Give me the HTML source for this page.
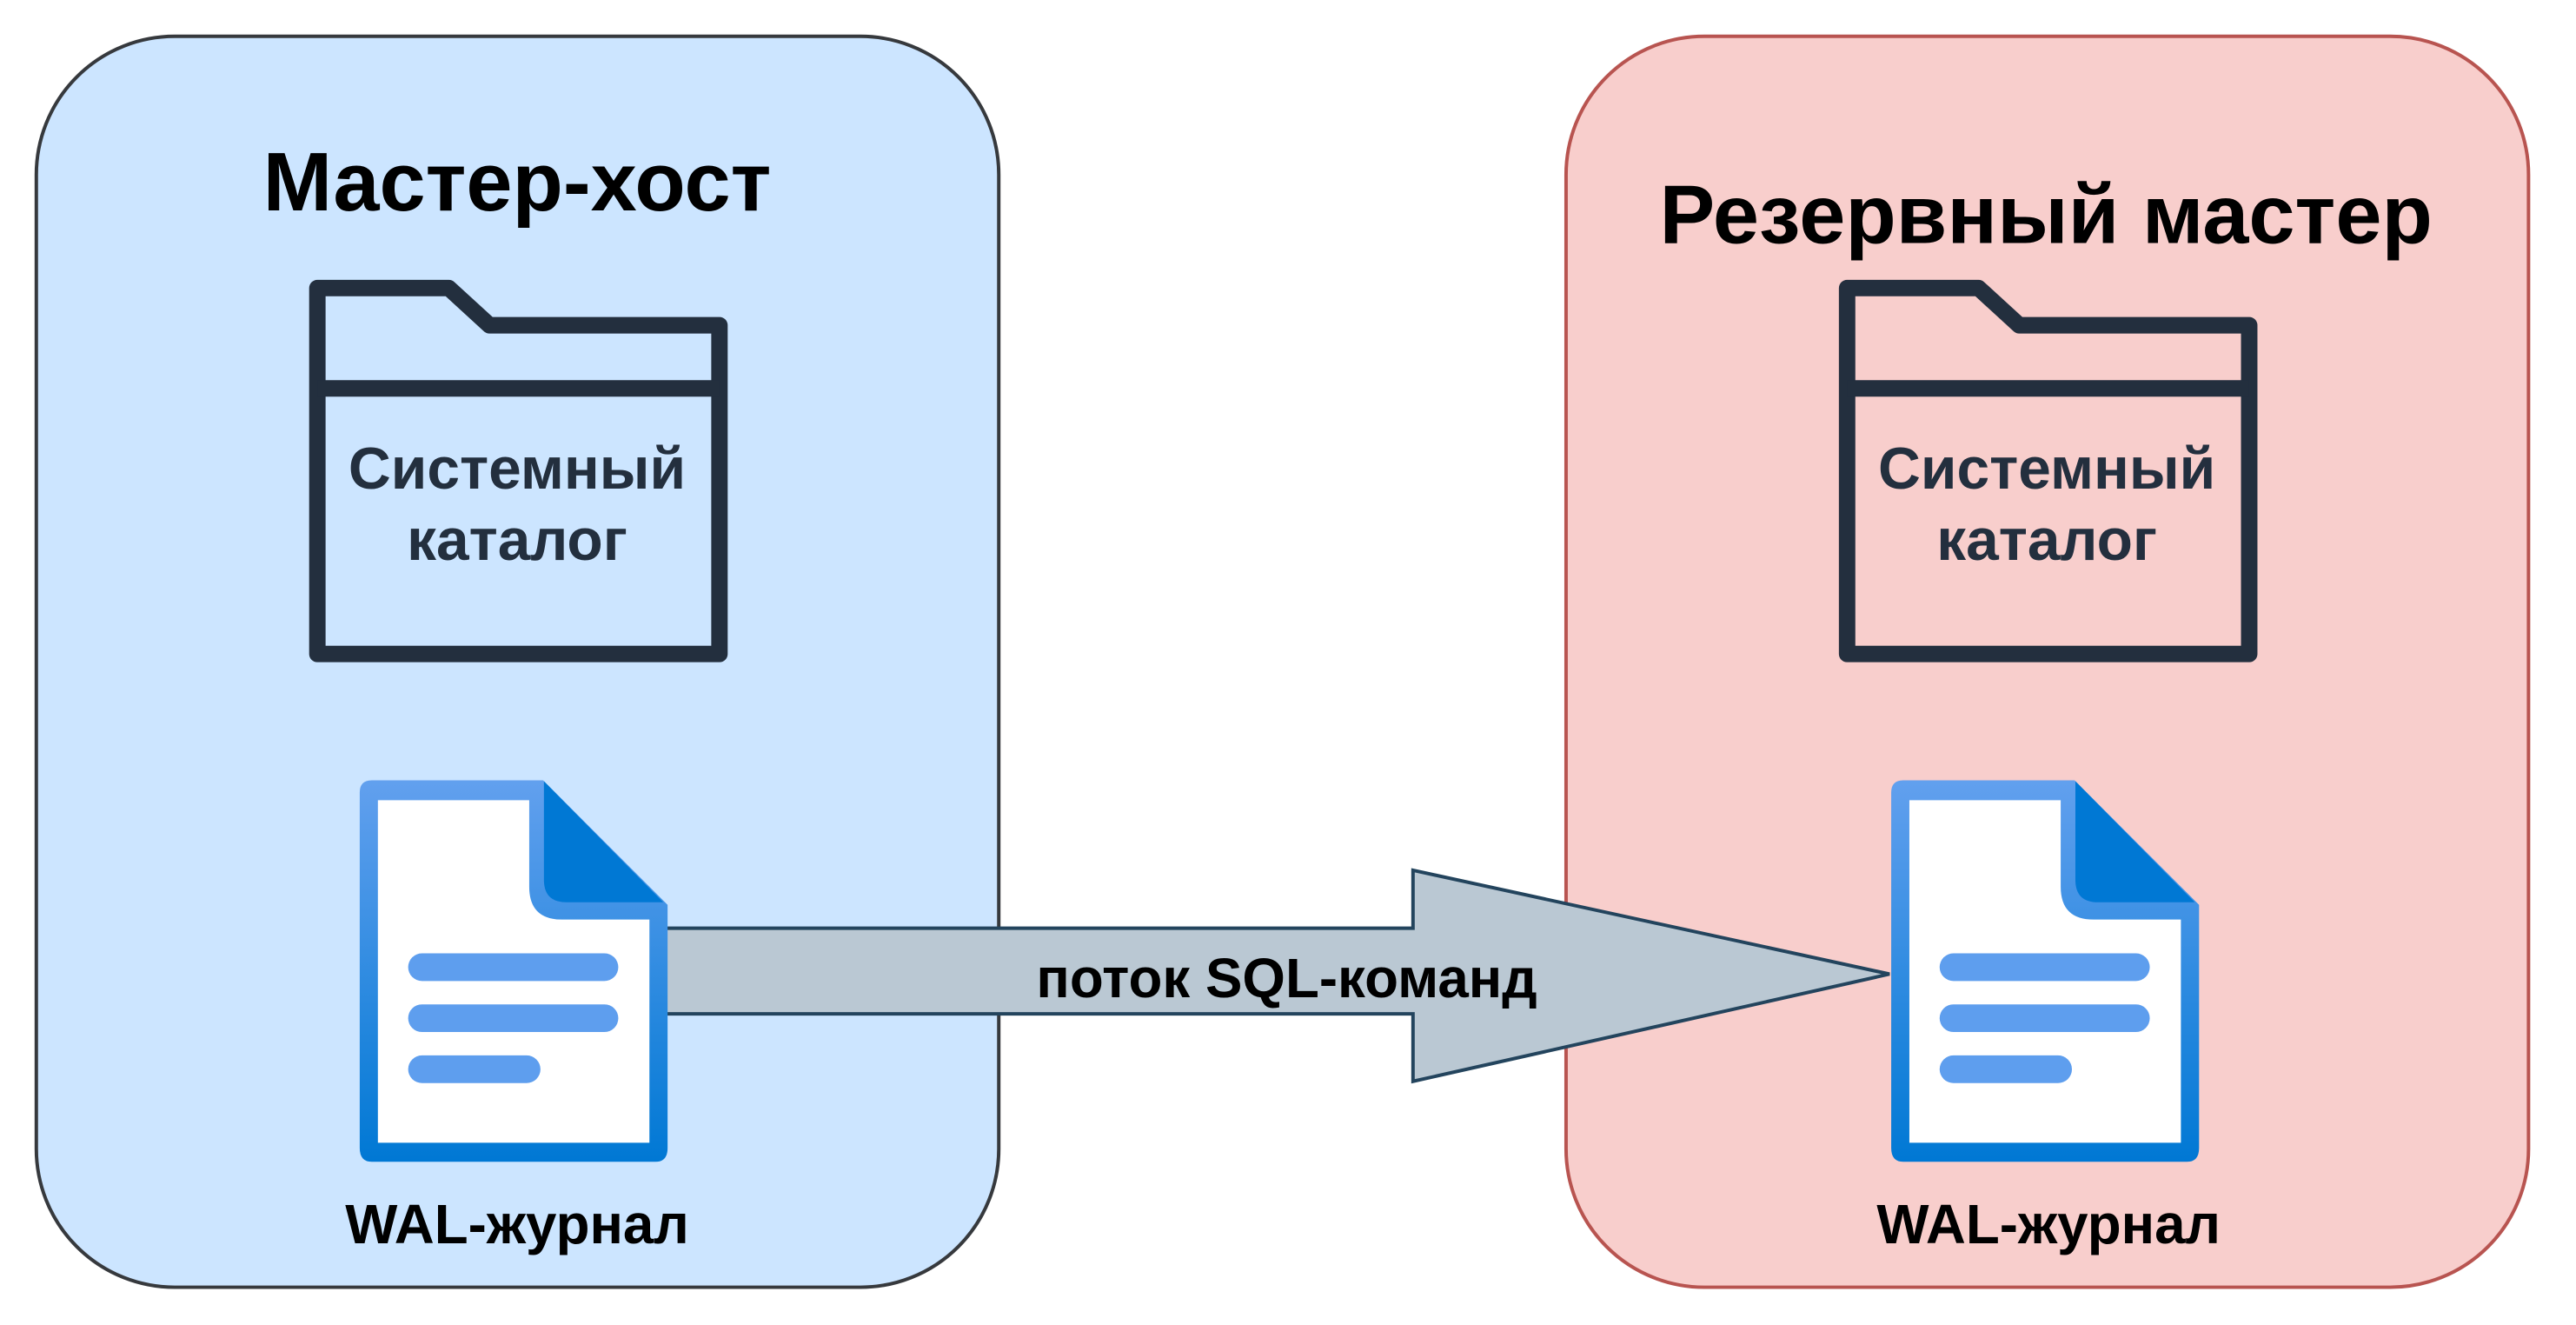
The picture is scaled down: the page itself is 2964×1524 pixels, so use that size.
<!DOCTYPE html>
<html><head><meta charset="utf-8"><style>html,body{margin:0;padding:0;background:#fff}svg{display:block}</style></head>
<body>
<svg width="2964" height="1524" viewBox="0 0 2964 1524" xmlns="http://www.w3.org/2000/svg" font-family="Liberation Sans, Arial, sans-serif">
<defs>
<linearGradient id="dg" x1="0" y1="0" x2="0" y2="1">
<stop offset="0" stop-color="#62a0ee"/><stop offset="1" stop-color="#0078d4"/>
</linearGradient>
<g id="folder">
<path d="M367,333 L519,333 L566,376 L832,376 L832,756 L367,756 Z" fill="none" stroke="#232f3e" stroke-width="19" stroke-linejoin="round"/>
<line x1="367" y1="449" x2="832" y2="449" stroke="#232f3e" stroke-width="19"/>
</g>
<g id="doc">
<path d="M430,897 L628,897 L772,1041 L772,1322 Q772,1338 758,1338 L430,1338 Q416,1338 416,1322 L416,911 Q416,897 430,897 Z" fill="url(#dg)"/>
<path d="M437,920 L612,920 L612,1020 Q612,1058 650,1058 L751,1058 L751,1316 L437,1316 Z" fill="#fff"/>
<path d="M629,898 L767,1038 L655,1038 Q629,1038 629,1012 Z" fill="#0078d4"/>
<rect x="472" y="1097" width="243" height="32" rx="16" fill="#5e9eee"/>
<rect x="472" y="1156" width="243" height="32" rx="16" fill="#5e9eee"/>
<rect x="472" y="1215" width="153" height="32" rx="16" fill="#5e9eee"/>
</g>
</defs>
<g transform="scale(0.995)">
<rect x="42" y="42" width="1113" height="1446" rx="160" fill="#cce5ff" stroke="#36393d" stroke-width="4"/>
<rect x="1811" y="42" width="1113" height="1446" rx="160" fill="#f8cecc" stroke="#b85450" stroke-width="4"/>
<text x="598" y="243" font-size="96" font-weight="bold" text-anchor="middle" fill="#000">Мастер-хост</text>
<text x="2366" y="281" font-size="96" font-weight="bold" text-anchor="middle" fill="#000">Резервный мастер</text>
<use href="#folder"/>
<use href="#folder" x="1769"/>
<g font-size="68" font-weight="bold" fill="#232f3e" text-anchor="middle">
<text x="598" y="565">Системный</text><text x="598" y="647">каталог</text>
<text x="2367" y="565">Системный</text><text x="2367" y="647">каталог</text>
</g>
<g transform="translate(0,5)">
<path d="M762,1068 L1634,1068 L1634,1001 L2185,1121 L1634,1245 L1634,1167 L762,1167 Z" fill="#bac8d3" stroke="#23445d" stroke-width="4"/>
<text x="1488" y="1148" font-size="64" font-weight="bold" text-anchor="middle" fill="#000">поток SQL-команд</text>
<use href="#doc"/>
<use href="#doc" x="1771"/>
</g>
<text x="598" y="1437" font-size="64" font-weight="bold" text-anchor="middle" fill="#000">WAL-журнал</text>
<text x="2369" y="1437" font-size="64" font-weight="bold" text-anchor="middle" fill="#000">WAL-журнал</text>
</g>
</svg>
</body></html>
